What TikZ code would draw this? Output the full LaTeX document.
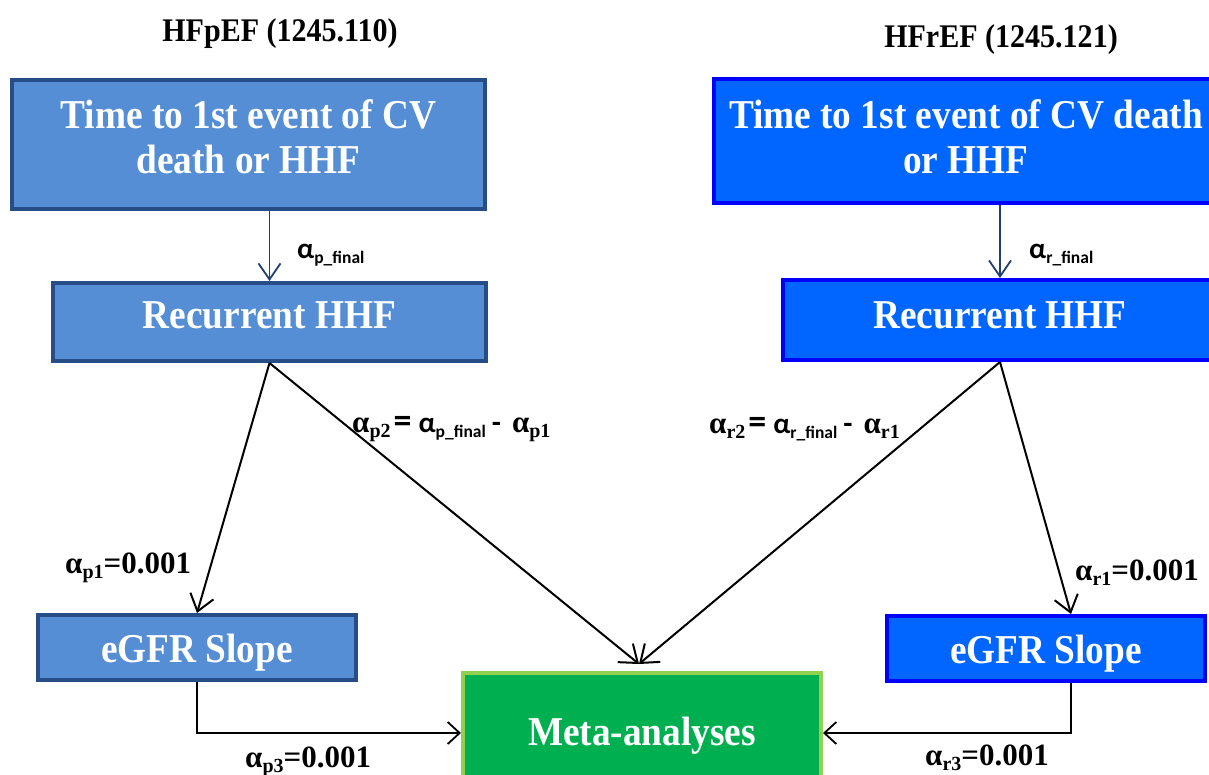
\documentclass[tikz,border=0pt]{standalone}
\usepackage{fontspec}
\setmainfont{Liberation Serif}[FakeStretch=0.91]
\newfontfamily\labf{Liberation Serif}
\newfontfamily\sansf{Carlito}
\usetikzlibrary{arrows.meta,calc}
\definecolor{lfill}{HTML}{558ED5}
\definecolor{ldraw}{HTML}{264D85}
\definecolor{rfill}{HTML}{0066FF}
\definecolor{rdraw}{HTML}{0000FF}
\definecolor{mfill}{HTML}{00B050}
\definecolor{mdraw}{HTML}{92D050}
\definecolor{darrow}{HTML}{1F3F6F}
\newcommand{\lsub}[1]{\raisebox{-5pt}{\fontsize{20}{20}\selectfont #1}}
\newcommand{\serifa}[1]{{\labf\bfseries\fontsize{31}{31}\selectfont α\lsub{#1}}}
\newcommand{\sansa}[1]{{\sansf\bfseries\fontsize{29}{29}\selectfont α\raisebox{-5pt}{\fontsize{17.5}{17.5}\selectfont #1}}}
\newcommand{\twolines}[2]{\begin{tabular}[t]{@{}c@{}}#1\\#2\end{tabular}}
\tikzset{
  boxbase/.style={rectangle, line width=4pt, text=white, font=\bfseries\fontsize{41}{45}\selectfont, align=center, inner sep=0pt},
  lbox/.style={boxbase, draw=ldraw, fill=lfill},
  rbox/.style={boxbase, draw=rdraw, fill=rfill},
  mbox/.style={boxbase, draw=mdraw, fill=mfill},
  title/.style={font=\bfseries\fontsize{33}{33}\selectfont, anchor=base, inner sep=0pt},
  lab/.style={font=\labf\bfseries\fontsize{31}{31}\selectfont, anchor=base west, inner sep=0pt},
  toparrow/.style={draw=darrow, line width=1.8pt, -{Straight Barb[length=16pt,width=22pt]}},
  diag/.style={draw=black, line width=2pt, -{Straight Barb[length=16pt,width=24pt]}},
  elbow/.style={draw=black, line width=2.6pt, -{Straight Barb[length=12pt,width=22pt,line width=1.8pt]}}
}
\begin{document}
\begin{tikzpicture}[x=1pt,y=-1pt]
\useasboundingbox (0,0) rectangle (1209,774);
% titles
\node[title] (t1) at (280,41) {HFpEF (1245.110)};
\node[title] (t2) at (1001,47) {HFrEF (1245.121)};
% boxes
\node[lbox, minimum width=473pt, minimum height=129pt, text height=0pt, text depth=33pt] (LT) at (248.5,144.5) {\twolines{Time to 1st event of CV}{death or HHF}};
\node[lbox, minimum width=433pt, minimum height=78pt, text height=12pt, text depth=0pt] (LR) at (269.5,322) {Recurrent HHF};
\node[lbox, minimum width=318pt, minimum height=65pt, text height=29pt, text depth=0pt] (LE) at (197,647.5) {eGFR Slope};
\node[rbox, minimum width=504pt, minimum height=124pt, text height=0pt, text depth=26pt] (RT) at (966,141) {\twolines{Time to 1st event of CV death}{or HHF}};
\node[rbox, minimum width=434pt, minimum height=80pt, text height=16pt, text depth=0pt] (RR) at (1000,320) {Recurrent HHF};
\node[rbox, minimum width=318pt, minimum height=65pt, text height=29pt, text depth=0pt] (RE) at (1046,648.5) {eGFR Slope};
\node[mbox, minimum width=358pt, minimum height=120pt, text height=24pt, text depth=0pt] (M) at (642,733) {Meta-analyses};
% connector points
\coordinate (mtip) at ($(M.north)+(-3,-7)$);
\coordinate (REin) at ($(RE.north)+(25,0)$);
\coordinate (REout) at ($(RE.south)+(25,0)$);
% connectors
\draw[toparrow] (LT.south -| LR.north) -- (LR.north);
\draw[toparrow] (RT.south -| RR.north) -- (RR.north);
\draw[diag] (LR.south) -- (LE.north);
\draw[diag] (LR.south) -- (mtip);
\draw[diag] (RR.south) -- (mtip);
\draw[diag] (RR.south) -- (REin);
\draw[elbow] (LE.south) |- (M.west);
\draw[elbow] (REout) |- (M.east);
% labels
\node[lab] (a1) at (297,258) {\sansa{p\_final}};
\node[lab] (a2) at (1029,258) {\sansa{r\_final}};
\node[lab] (a3) at (352,432) {\serifa{p2}\hspace{3pt}{\sansf\bfseries\fontsize{36}{36}\selectfont =}\hspace{7pt}\sansa{p\_final}\hspace{6pt}{\sansf\bfseries\fontsize{30}{30}\selectfont -}\hspace{11pt}\serifa{p1}};
\node[lab] (a4) at (709,433) {\serifa{r2}\hspace{3pt}{\sansf\bfseries\fontsize{36}{36}\selectfont =}\hspace{7pt}\sansa{r\_final}\hspace{6pt}{\sansf\bfseries\fontsize{30}{30}\selectfont -}\hspace{11pt}\serifa{r1}};
\node[lab] (a5) at (65,573) {\serifa{p1}=0.001};
\node[lab] (a6) at (1075,580) {\serifa{r1}=0.001};
\node[lab] (a7) at (245,767) {\serifa{p3}=0.001};
\node[lab] (a8) at (925,765) {\serifa{r3}=0.001};
\end{tikzpicture}
\end{document}
